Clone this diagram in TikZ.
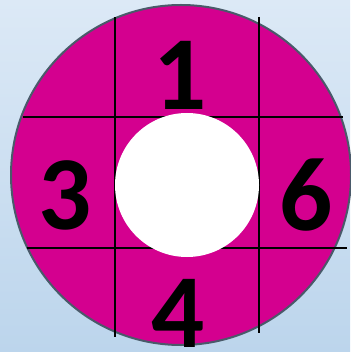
\documentclass[tikz,border=0pt]{standalone}
\usepackage{fontspec}
\setmainfont{Carlito}
\definecolor{bgtop}{RGB}{220,233,246}
\definecolor{bgbot}{RGB}{188,213,236}
\definecolor{disc}{RGB}{212,0,143}
\definecolor{rim}{RGB}{74,90,106}
\tikzset{
  digit/.style={inner sep=0pt, font=\bfseries\fontsize{105}{105}\selectfont, text=black},
  gridline/.style={line width=2pt, black},
}
\begin{document}
\begin{tikzpicture}[x=1pt,y=-1pt]
\shade[top color=bgtop, bottom color=bgbot] (0,0) rectangle (350,352);
\useasboundingbox (0,0) rectangle (350,352);
\node[circle, minimum size=340pt, inner sep=0pt, fill=disc, draw=rim, line width=2pt] (outer) at (181,175) {};
\coordinate (v1t) at (115,17); \coordinate (v1b) at (115,337);
\coordinate (v2t) at (259,17); \coordinate (v2b) at (259,333);
\coordinate (h1l) at (23,117); \coordinate (h1r) at (343,117);
\coordinate (h2l) at (27,248); \coordinate (h2r) at (347,248);
\draw[gridline] (v1t) -- (v1b);
\draw[gridline] (v2t) -- (v2b);
\draw[gridline] (h1l) -- (h1r);
\draw[gridline] (h2l) -- (h2r);
\node[circle, minimum size=144pt, inner sep=0pt, fill=white] (inner) at (187,185) {};
\node[digit] (n1) at (180,75) {1};
\node[digit] (n3) at (65,195) {3};
\node[digit] (n6) at (306,195) {6};
\node[digit] (n4) at (178,313) {4};
\end{tikzpicture}
\end{document}
